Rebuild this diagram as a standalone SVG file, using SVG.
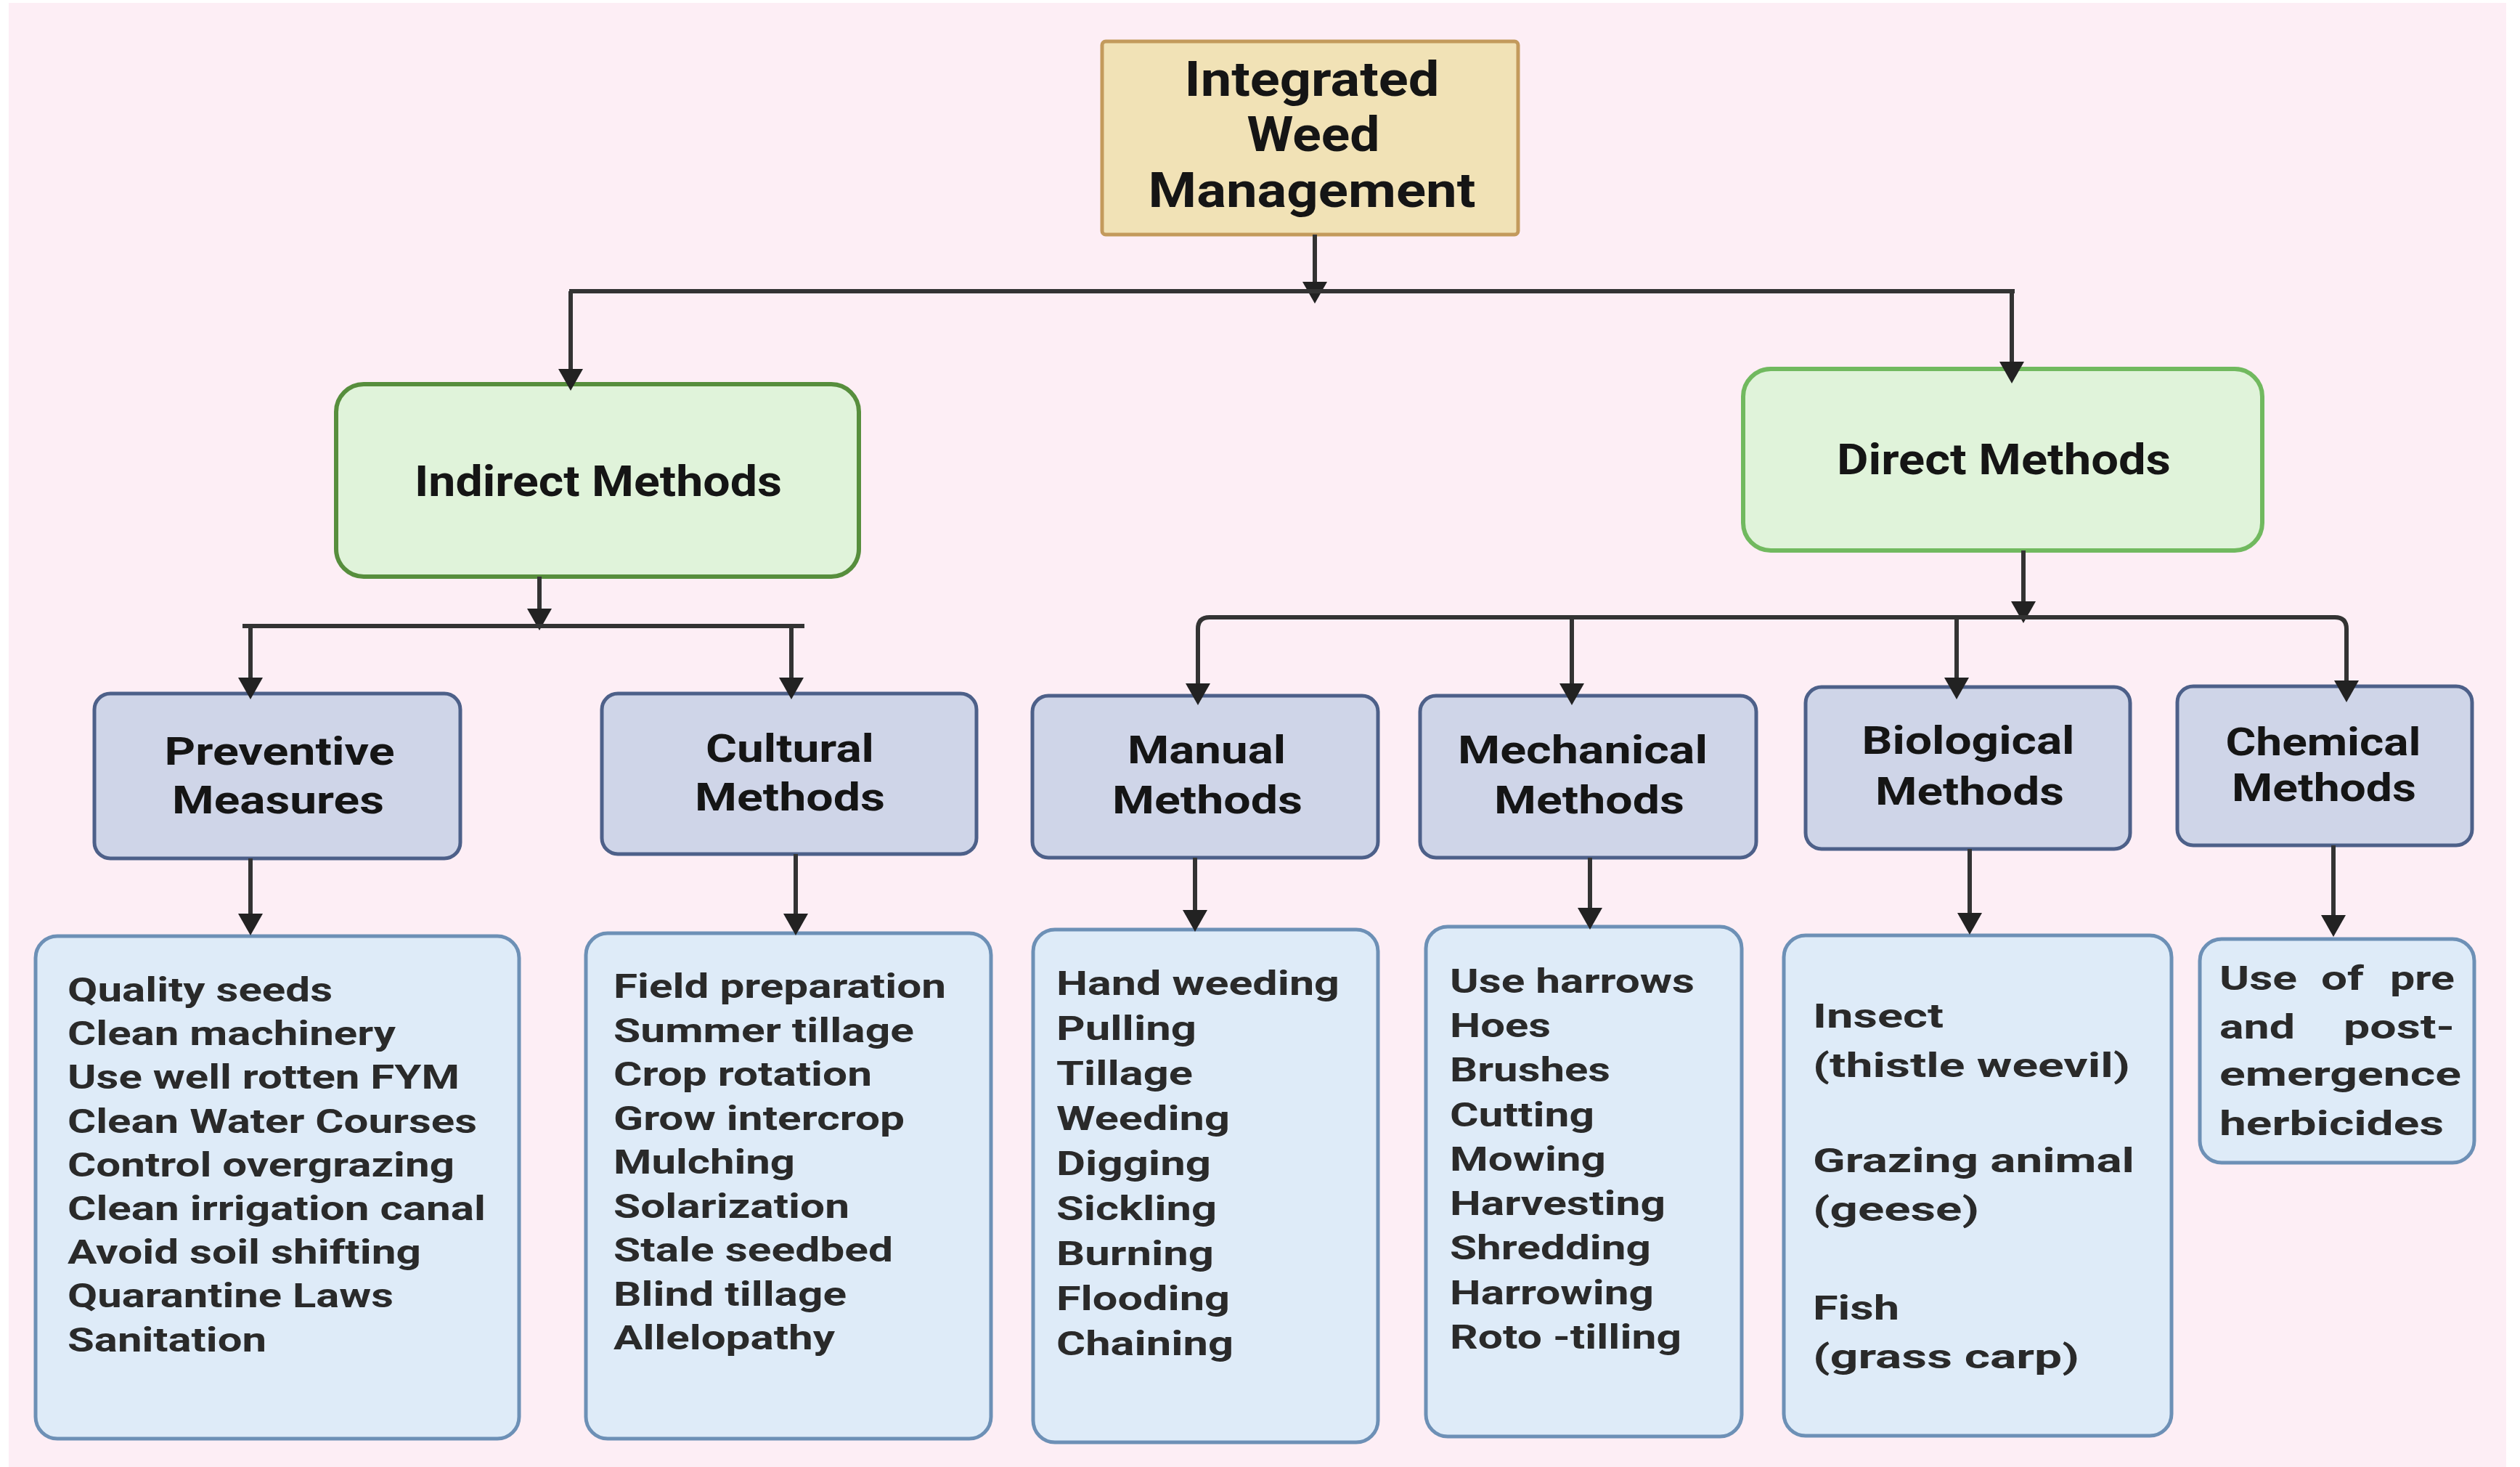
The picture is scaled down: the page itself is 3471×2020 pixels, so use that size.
<svg xmlns="http://www.w3.org/2000/svg" width="3471" height="2020" viewBox="0 0 3471 2020">
<defs>
<marker id="ah" viewBox="0 0 30 34" refX="20" refY="17" markerWidth="30" markerHeight="34" markerUnits="userSpaceOnUse" orient="auto">
<path d="M0,0 L30,17 L0,34 Z" fill="#222"/>
</marker>
<style>
.root{fill:#f1e2b6;stroke:#c39a5c;stroke-width:5}
.green1{fill:#e0f3da;stroke:#578e3d;stroke-width:6}
.green2{fill:#e0f3da;stroke:#71b95f;stroke-width:6}
.method{fill:#cfd5e8;stroke:#4d6089;stroke-width:5}
.leaf{fill:#deebf8;stroke:#6d90b6;stroke-width:5}
.conn path{fill:none;stroke:#333;stroke-width:6}
.hd{font-family:Roboto,"Liberation Sans",sans-serif;font-weight:bold;fill:#151515;text-anchor:middle}
.lf{font-family:Roboto,"Liberation Sans",sans-serif;font-weight:bold;fill:#2a2a2a;font-size:47px}
</style>
</defs>
<rect x="0" y="0" width="3471" height="2020" fill="#ffffff"/>
<rect x="12" y="4" width="3440" height="2016" fill="#fdeef5"/>

<g id="root">
<rect class="root" x="1518" y="57" width="573" height="266" rx="5"/>
<text class="hd" font-size="66" x="1807" y="132" textLength="351" lengthAdjust="spacingAndGlyphs">Integrated</text>
<text class="hd" font-size="66" x="1809" y="208" textLength="183" lengthAdjust="spacingAndGlyphs">Weed</text>
<text class="hd" font-size="66" x="1807" y="285" textLength="451" lengthAdjust="spacingAndGlyphs">Management</text>
</g>

<g id="indirect">
<rect class="green1" x="463" y="529" width="720" height="265" rx="38"/>
<text class="hd" font-size="60" x="824" y="683" textLength="506" lengthAdjust="spacingAndGlyphs">Indirect Methods</text>
</g>

<g id="direct">
<rect class="green2" x="2401" y="508" width="715" height="250" rx="38"/>
<text class="hd" font-size="60" x="2760" y="653" textLength="460" lengthAdjust="spacingAndGlyphs">Direct Methods</text>
</g>

<g id="preventive">
<rect class="method" x="130" y="955" width="504" height="227" rx="22"/>
<text class="hd" font-size="53" x="385" y="1053" textLength="317" lengthAdjust="spacingAndGlyphs">Preventive</text>
<text class="hd" font-size="53" x="383" y="1120" textLength="292" lengthAdjust="spacingAndGlyphs">Measures</text>
</g>

<g id="cultural">
<rect class="method" x="829" y="955" width="516" height="221" rx="22"/>
<text class="hd" font-size="53" x="1088" y="1049" textLength="232" lengthAdjust="spacingAndGlyphs">Cultural</text>
<text class="hd" font-size="53" x="1088" y="1116" textLength="262" lengthAdjust="spacingAndGlyphs">Methods</text>
</g>

<g id="manual">
<rect class="method" x="1422" y="958" width="476" height="223" rx="22"/>
<text class="hd" font-size="53" x="1662" y="1051" textLength="218" lengthAdjust="spacingAndGlyphs">Manual</text>
<text class="hd" font-size="53" x="1663" y="1120" textLength="262" lengthAdjust="spacingAndGlyphs">Methods</text>
</g>

<g id="mechanical">
<rect class="method" x="1956" y="958" width="463" height="223" rx="22"/>
<text class="hd" font-size="53" x="2180" y="1051" textLength="344" lengthAdjust="spacingAndGlyphs">Mechanical</text>
<text class="hd" font-size="53" x="2189" y="1120" textLength="262" lengthAdjust="spacingAndGlyphs">Methods</text>
</g>

<g id="biological">
<rect class="method" x="2487" y="946" width="447" height="223" rx="22"/>
<text class="hd" font-size="53" x="2711" y="1038" textLength="293" lengthAdjust="spacingAndGlyphs">Biological</text>
<text class="hd" font-size="53" x="2713" y="1108" textLength="260" lengthAdjust="spacingAndGlyphs">Methods</text>
</g>

<g id="chemical">
<rect class="method" x="2999" y="945" width="406" height="219" rx="22"/>
<text class="hd" font-size="53" x="3200" y="1040" textLength="269" lengthAdjust="spacingAndGlyphs">Chemical</text>
<text class="hd" font-size="53" x="3201" y="1103" textLength="254" lengthAdjust="spacingAndGlyphs">Methods</text>
</g>

<g id="preventive-list">
<rect class="leaf" x="49" y="1289" width="666" height="692" rx="30"/>
<text class="lf" x="93" y="1379" textLength="365" lengthAdjust="spacingAndGlyphs">Quality seeds</text>
<text class="lf" x="93" y="1439" textLength="452" lengthAdjust="spacingAndGlyphs">Clean machinery</text>
<text class="lf" x="93" y="1499" textLength="540" lengthAdjust="spacingAndGlyphs">Use well rotten FYM</text>
<text class="lf" x="93" y="1560" textLength="564" lengthAdjust="spacingAndGlyphs">Clean Water Courses</text>
<text class="lf" x="93" y="1620" textLength="533" lengthAdjust="spacingAndGlyphs">Control overgrazing</text>
<text class="lf" x="93" y="1680" textLength="576" lengthAdjust="spacingAndGlyphs">Clean irrigation canal</text>
<text class="lf" x="93" y="1740" textLength="487" lengthAdjust="spacingAndGlyphs">Avoid soil shifting</text>
<text class="lf" x="93" y="1800" textLength="449" lengthAdjust="spacingAndGlyphs">Quarantine Laws</text>
<text class="lf" x="93" y="1861" textLength="274" lengthAdjust="spacingAndGlyphs">Sanitation</text>
</g>

<g id="cultural-list">
<rect class="leaf" x="807" y="1285" width="558" height="696" rx="30"/>
<text class="lf" x="845" y="1374" textLength="458" lengthAdjust="spacingAndGlyphs">Field preparation</text>
<text class="lf" x="845" y="1435" textLength="414" lengthAdjust="spacingAndGlyphs">Summer tillage</text>
<text class="lf" x="845" y="1495" textLength="356" lengthAdjust="spacingAndGlyphs">Crop rotation</text>
<text class="lf" x="845" y="1556" textLength="401" lengthAdjust="spacingAndGlyphs">Grow intercrop</text>
<text class="lf" x="845" y="1616" textLength="250" lengthAdjust="spacingAndGlyphs">Mulching</text>
<text class="lf" x="845" y="1677" textLength="325" lengthAdjust="spacingAndGlyphs">Solarization</text>
<text class="lf" x="845" y="1737" textLength="385" lengthAdjust="spacingAndGlyphs">Stale seedbed</text>
<text class="lf" x="845" y="1798" textLength="321" lengthAdjust="spacingAndGlyphs">Blind tillage</text>
<text class="lf" x="845" y="1858" textLength="305" lengthAdjust="spacingAndGlyphs">Allelopathy</text>
</g>

<g id="manual-list">
<rect class="leaf" x="1423" y="1280" width="475" height="706" rx="30"/>
<text class="lf" x="1455" y="1370" textLength="390" lengthAdjust="spacingAndGlyphs">Hand weeding</text>
<text class="lf" x="1455" y="1432" textLength="193" lengthAdjust="spacingAndGlyphs">Pulling</text>
<text class="lf" x="1455" y="1494" textLength="188" lengthAdjust="spacingAndGlyphs">Tillage</text>
<text class="lf" x="1455" y="1556" textLength="239" lengthAdjust="spacingAndGlyphs">Weeding</text>
<text class="lf" x="1455" y="1618" textLength="213" lengthAdjust="spacingAndGlyphs">Digging</text>
<text class="lf" x="1455" y="1680" textLength="221" lengthAdjust="spacingAndGlyphs">Sickling</text>
<text class="lf" x="1455" y="1742" textLength="217" lengthAdjust="spacingAndGlyphs">Burning</text>
<text class="lf" x="1455" y="1804" textLength="239" lengthAdjust="spacingAndGlyphs">Flooding</text>
<text class="lf" x="1455" y="1866" textLength="244" lengthAdjust="spacingAndGlyphs">Chaining</text>
</g>

<g id="mechanical-list">
<rect class="leaf" x="1964" y="1276" width="435" height="702" rx="30"/>
<text class="lf" x="1997" y="1367" textLength="337" lengthAdjust="spacingAndGlyphs">Use harrows</text>
<text class="lf" x="1997" y="1428" textLength="139" lengthAdjust="spacingAndGlyphs">Hoes</text>
<text class="lf" x="1997" y="1489" textLength="221" lengthAdjust="spacingAndGlyphs">Brushes</text>
<text class="lf" x="1997" y="1551" textLength="199" lengthAdjust="spacingAndGlyphs">Cutting</text>
<text class="lf" x="1997" y="1612" textLength="215" lengthAdjust="spacingAndGlyphs">Mowing</text>
<text class="lf" x="1997" y="1673" textLength="297" lengthAdjust="spacingAndGlyphs">Harvesting</text>
<text class="lf" x="1997" y="1734" textLength="277" lengthAdjust="spacingAndGlyphs">Shredding</text>
<text class="lf" x="1997" y="1796" textLength="281" lengthAdjust="spacingAndGlyphs">Harrowing</text>
<text class="lf" x="1997" y="1857" textLength="319" lengthAdjust="spacingAndGlyphs">Roto -tilling</text>
</g>

<g id="biological-list">
<rect class="leaf" x="2457" y="1288" width="534" height="689" rx="30"/>
<text class="lf" font-size="54" x="2497" y="1415" textLength="180" lengthAdjust="spacingAndGlyphs">Insect</text>
<text class="lf" font-size="54" x="2497" y="1483" textLength="437" lengthAdjust="spacingAndGlyphs">(thistle weevil)</text>
<text class="lf" font-size="54" x="2497" y="1614" textLength="443" lengthAdjust="spacingAndGlyphs">Grazing animal</text>
<text class="lf" font-size="54" x="2497" y="1681" textLength="229" lengthAdjust="spacingAndGlyphs">(geese)</text>
<text class="lf" font-size="54" x="2497" y="1817" textLength="119" lengthAdjust="spacingAndGlyphs">Fish</text>
<text class="lf" font-size="54" x="2497" y="1884" textLength="367" lengthAdjust="spacingAndGlyphs">(grass carp)</text>
</g>

<g id="chemical-list">
<rect class="leaf" x="3030" y="1293" width="378" height="308" rx="30"/>
<text class="lf" font-size="50" y="1363"><tspan x="3057" textLength="107" lengthAdjust="spacingAndGlyphs">Use</tspan><tspan x="3197" textLength="59" lengthAdjust="spacingAndGlyphs">of</tspan><tspan x="3292" textLength="89" lengthAdjust="spacingAndGlyphs">pre</tspan></text>
<text class="lf" font-size="50" y="1430"><tspan x="3057" textLength="104" lengthAdjust="spacingAndGlyphs">and</tspan><tspan x="3228" textLength="153" lengthAdjust="spacingAndGlyphs">post-</tspan></text>
<text class="lf" font-size="50" x="3057" y="1495" textLength="333" lengthAdjust="spacingAndGlyphs">emergence</text>
<text class="lf" font-size="50" x="3057" y="1563" textLength="309" lengthAdjust="spacingAndGlyphs">herbicides</text>
</g>

<g id="connectors" class="conn">
<path d="M1811,323 V408" marker-end="url(#ah)"/>
<path d="M784,401 H2775"/>
<path d="M786,401 V528" marker-end="url(#ah)"/>
<path d="M2771,401 V518" marker-end="url(#ah)"/>
<path d="M743,794 V858" marker-end="url(#ah)"/>
<path d="M334,862 H1108"/>
<path d="M345,862 V953" marker-end="url(#ah)"/>
<path d="M1090,862 V953" marker-end="url(#ah)"/>
<path d="M345,1182 V1278" marker-end="url(#ah)"/>
<path d="M1096,1176 V1278" marker-end="url(#ah)"/>
<path d="M2787,758 V848" marker-end="url(#ah)"/>
<path d="M1666,850 H3216"/>
<path d="M1666,850 Q1650,850 1650,866 V961" marker-end="url(#ah)"/>
<path d="M3216,850 Q3232,850 3232,866 V957" marker-end="url(#ah)"/>
<path d="M2165,850 V961" marker-end="url(#ah)"/>
<path d="M2695,850 V953" marker-end="url(#ah)"/>
<path d="M1646,1181 V1273" marker-end="url(#ah)"/>
<path d="M2190,1181 V1270" marker-end="url(#ah)"/>
<path d="M2713,1169 V1277" marker-end="url(#ah)"/>
<path d="M3214,1164 V1280" marker-end="url(#ah)"/>
</g>
</svg>
